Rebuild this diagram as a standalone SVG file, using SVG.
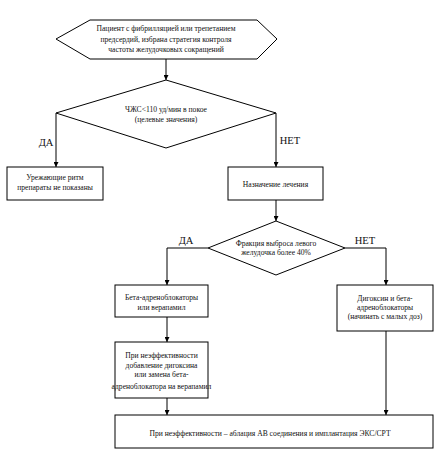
<svg xmlns="http://www.w3.org/2000/svg" width="444" height="464" viewBox="0 0 444 464">
<defs>
<style>
.s{fill:#fff;stroke:#000;stroke-width:1}
.t{font-family:"Liberation Serif","Times New Roman",serif;font-size:7.6px;fill:#111;text-anchor:middle}
.l{font-family:"Liberation Serif","Times New Roman",serif;font-size:10.5px;fill:#111;text-anchor:middle}
.c{fill:none;stroke:#000;stroke-width:1}
</style>
<marker id="a" viewBox="0 0 6 6" refX="6" refY="3" markerWidth="5" markerHeight="5" orient="auto" markerUnits="userSpaceOnUse">
<path d="M0,0 L6,3 L0,6 z" fill="#000"/>
</marker>
</defs>
<rect width="444" height="464" fill="#fff"/>
<g id="connectors">
<path class="c" d="M166,59 V80" marker-end="url(#a)"/>
<path class="c" d="M56,113 V167" marker-end="url(#a)"/>
<path class="c" d="M276,113 V167" marker-end="url(#a)"/>
<path class="c" d="M276,200 V221" marker-end="url(#a)"/>
<path class="c" d="M208,248 H167 V285" marker-end="url(#a)"/>
<path class="c" d="M345,248 H386 V285" marker-end="url(#a)"/>
<path class="c" d="M167,317 V342" marker-end="url(#a)"/>
<path class="c" d="M167,398 V415" marker-end="url(#a)"/>
<path class="c" d="M386,331 V415" marker-end="url(#a)"/>
<text class="l" x="46" y="146">ДА</text>
<text class="l" x="290" y="144">НЕТ</text>
<text class="l" x="186" y="244">ДА</text>
<text class="l" x="365" y="244">НЕТ</text>
</g>
<g id="start">
<polygon class="s" points="56,39 90,20 257,20 277,39 257,59 90,59"/>
<text class="t" x="166" y="31">Пациент с фибрилляцией или трепетанием</text>
<text class="t" x="166" y="42">предсердий, избрана стратегия контроля</text>
<text class="t" x="166" y="52">частоты желудочковых сокращений</text>
</g>
<g id="decision1">
<polygon class="s" points="166,80 276,113 166,148 56,113"/>
<text class="t" x="166" y="112">ЧЖС&lt;110 уд/мин в покое</text>
<text class="t" x="166" y="122">(целевые значения)</text>
</g>
<g id="no-drugs">
<rect class="s" x="7" y="167" width="96" height="33"/>
<text class="t" x="55" y="180">Урежающие ритм</text>
<text class="t" x="55" y="190">препараты не показаны</text>
</g>
<g id="treatment">
<rect class="s" x="228" y="167" width="95" height="33"/>
<text class="t" x="275.5" y="187">Назначение лечения</text>
</g>
<g id="decision2">
<polygon class="s" points="276,221 345,248 276,275 208,248"/>
<text class="t" x="276" y="246">Фракция выброса левого</text>
<text class="t" x="276" y="255">желудочка более 40%</text>
</g>
<g id="beta">
<rect class="s" x="115" y="285" width="93" height="32"/>
<text class="t" x="161.5" y="300">Бета-адреноблокаторы</text>
<text class="t" x="161.5" y="310">или верапамил</text>
</g>
<g id="digoxin">
<rect class="s" x="337" y="285" width="96" height="46"/>
<text class="t" x="385" y="301">Дигоксин и бета-</text>
<text class="t" x="385" y="310">адреноблокаторы</text>
<text class="t" x="385" y="319">(начинать с малых доз)</text>
</g>
<g id="ineffective1">
<rect class="s" x="115" y="342" width="93" height="56"/>
<text class="t" x="161.5" y="358">При неэффективности</text>
<text class="t" x="161.5" y="368">добавление дигоксина</text>
<text class="t" x="161.5" y="377">или замена бета-</text>
<text class="t" x="161.5" y="389">адреноблокатора на верапамил</text>
</g>
<g id="ablation">
<rect class="s" x="115" y="415" width="318" height="33"/>
<text class="t" x="270" y="436">При неэффективности – аблация АВ соединения и имплантация ЭКС/СРТ</text>
</g>
</svg>
